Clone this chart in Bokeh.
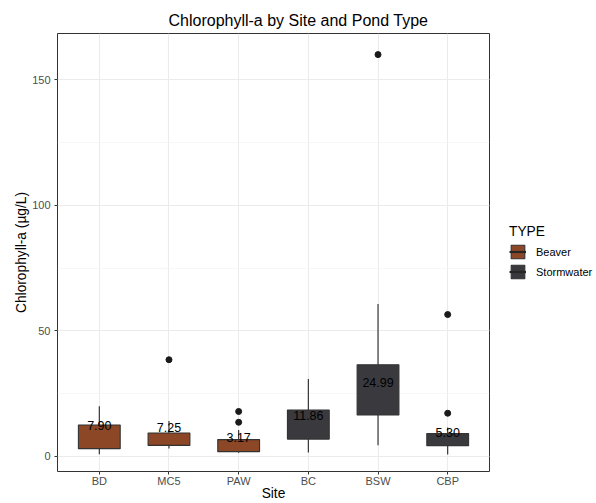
from bokeh.plotting import figure
from bokeh.layouts import row
from bokeh.models import (ColumnDataSource, FactorRange, Range1d, SingleIntervalTicker,
                          Legend, LegendItem)
from bokeh.embed import file_html
from bokeh.resources import INLINE
from bokeh.core.properties import value

# ---- data ----
sites = ["BD", "MC5", "PAW", "BC", "BSW", "CBP"]
types = ["Beaver", "Beaver", "Beaver", "Stormwater", "Stormwater", "Stormwater"]
lower = [0.9, 3.2, 1.5, 1.6, 4.5, 0.8]
q1 = [3.1, 4.4, 1.9, 6.9, 16.5, 4.3]
median = [7.90, 7.25, 3.17, 11.86, 24.99, 5.30]
q3 = [12.5, 9.3, 6.7, 18.5, 36.5, 9.1]
upper = [20.0, 14.1, 10.5, 30.8, 60.7, 11.5]
outlier_sites = ["MC5", "PAW", "PAW", "BSW", "CBP", "CBP"]
outlier_vals = [38.5, 17.9, 13.6, 160.0, 56.5, 17.2]
type_names = ["Beaver", "Stormwater"]
type_colors = ["#8B4726", "#3a3a3e"]

FONT = "Liberation Sans"
OUT = "#333333"
MAIN_W = 500

p = figure(width=MAIN_W, height=503, output_backend="svg", toolbar_location=None,
           x_range=FactorRange(*sites, range_padding=0.1, range_padding_units="absolute"),
           y_range=Range1d(-6.0, 168.4),
           min_border_left=57, min_border_right=11, min_border_top=33, min_border_bottom=31)

p.title.text = "Chlorophyll-a by Site and Pond Type"
p.title.text_font = FONT
p.title.text_font_size = "16px"
p.title.text_font_style = "normal"
p.title.text_color = "#000000"
p.title.align = "left"
p.title.offset = 111
p.title.standoff = 10

p.background_fill_color = "white"
p.border_fill_color = "white"
p.outline_line_color = OUT
p.outline_line_width = 1

# grids
p.xgrid.grid_line_color = "#EBEBEB"
p.xgrid.grid_line_width = 1.1
p.ygrid.grid_line_color = "#EBEBEB"
p.ygrid.grid_line_width = 1.1
p.ygrid.minor_grid_line_color = "#F2F2F2"
p.ygrid.minor_grid_line_width = 0.6

p.yaxis.ticker = SingleIntervalTicker(interval=50, num_minor_ticks=2)
for ax in (p.xaxis[0], p.yaxis[0]):
    ax.axis_line_color = None
    ax.major_tick_line_color = OUT
    ax.major_tick_in = 0
    ax.major_tick_out = 3
    ax.minor_tick_line_color = None
    ax.major_label_text_font = FONT
    ax.major_label_text_font_size = "11px"
    ax.major_label_text_color = "#4D4D4D"
    ax.axis_label_text_font = FONT
    ax.axis_label_text_font_size = "13.75px"
    ax.axis_label_text_font_style = "normal"
    ax.axis_label_text_color = "#000000"
p.xaxis.major_label_standoff = 0
p.xaxis.axis_label_standoff = -4
p.yaxis.major_label_standoff = 3
p.yaxis.axis_label_standoff = 0
p.xaxis.axis_label = "Site"
p.yaxis.axis_label = "Chlorophyll-a (µg/L)"

for tname, tcol in zip(type_names, type_colors):
    idx = [i for i, t in enumerate(types) if t == tname]
    src = ColumnDataSource(dict(
        site=[sites[i] for i in idx], lower=[lower[i] for i in idx], q1=[q1[i] for i in idx],
        median=[median[i] for i in idx], q3=[q3[i] for i in idx], upper=[upper[i] for i in idx]))
    p.segment(x0="site", y0="q3", x1="site", y1="upper", source=src, line_color="#262626", line_width=1.1)
    p.segment(x0="site", y0="lower", x1="site", y1="q1", source=src, line_color="#262626", line_width=1.1)
    p.vbar(x="site", width=0.6, bottom="q1", top="q3", source=src,
           fill_color=tcol, line_color=OUT, line_width=1.1)
    p.rect(x="site", y="median", width=0.6, height=0, source=src,
           line_color="#262626", line_width=2.2, fill_alpha=0)

osrc = ColumnDataSource(dict(site=outlier_sites, val=outlier_vals))
p.scatter(x="site", y="val", source=osrc, size=6, color="#1a1a1a")

lsrc = ColumnDataSource(dict(site=sites, median=median, lab=["%.2f" % m for m in median]))
p.text(x="site", y="median", text="lab", source=lsrc, text_align="center",
       text_baseline="middle", y_offset=-11, text_font=value(FONT),
       text_font_size="12.5px", text_color="#000000")

# ---- legend panel ----
lg = figure(width=596 - MAIN_W, height=503, output_backend="svg", toolbar_location=None,
            x_range=Range1d(0, 1), y_range=Range1d(0, 1),
            x_axis_location=None, y_axis_location=None,
            min_border=0, min_border_left=0, min_border_right=0,
            min_border_top=0, min_border_bottom=0)
lg.outline_line_color = None
lg.grid.visible = False
lg.background_fill_color = "white"
lg.border_fill_color = "white"

items = []
for tname, tcol in zip(type_names, type_colors):
    # legend-only renderers: their single point lies outside the visible range
    ksrc = ColumnDataSource(dict(x=[5.0], b=[5.0], t=[6.0], x1=[6.0]))
    b = lg.vbar(x="x", width=0.1, bottom="b", top="t", source=ksrc, fill_color=tcol,
                line_color=OUT, line_width=1.1)
    m = lg.segment(x0="x", y0="b", x1="x1", y1="b", source=ksrc,
                   line_color="#262626", line_width=2.2)
    items.append(LegendItem(label=tname, renderers=[b, m]))

legend = Legend(items=items, title="TYPE", location=(9, 191),
                title_text_font=FONT, title_text_font_size="13.75px",
                title_text_font_style="normal", title_text_color="#000000",
                title_standoff=4,
                label_text_font=FONT, label_text_font_size="11px", label_text_color="#000000",
                glyph_width=17, glyph_height=17, label_standoff=10, spacing=3,
                padding=0, margin=0, border_line_color=None, background_fill_alpha=0)
lg.add_layout(legend, "center")

layout = row(p, lg, spacing=0)
open("out.html", "w").write(file_html(layout, INLINE))
